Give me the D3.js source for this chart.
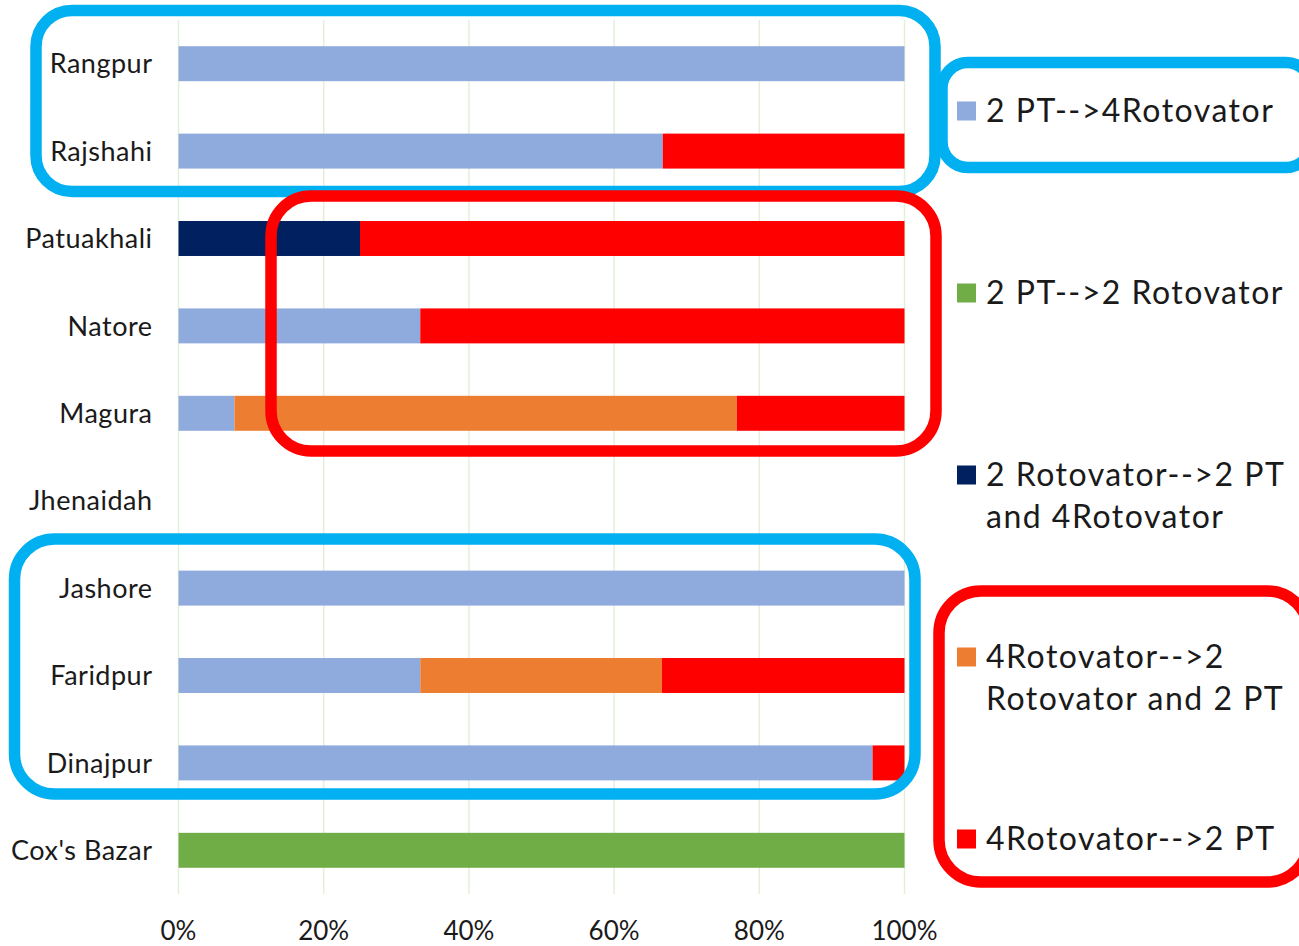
<!DOCTYPE html>
<html>
<head>
<meta charset="utf-8">
<script src="https://cdn.jsdelivr.net/npm/d3@7/dist/d3.min.js"></script>
<style>
  html, body { margin: 0; padding: 0; background: #fff; }
  svg { display: block; }
  text { font-family: "Lato", "Open Sans", sans-serif; fill: #1a1a1a; }
</style>
</head>
<body>
<svg id="chart" width="1299" height="946"></svg>
<script>
// ---- data ----
const categories = ["Rangpur", "Rajshahi", "Patuakhali", "Natore", "Magura", "Jhenaidah", "Jashore", "Faridpur", "Dinajpur", "Cox's Bazar"];
const seriesNames = ["2 PT-->4Rotovator", "2 PT-->2 Rotovator", "2 Rotovator-->2 PT and 4Rotovator", "4Rotovator-->2 Rotovator and 2 PT", "4Rotovator-->2 PT"];
const s_2PT_4Rot   = [100, 66.7, 0, 33.3, 7.7, 0, 100, 33.3, 95.6, 0];
const s_2PT_2Rot   = [0, 0, 0, 0, 0, 0, 0, 0, 0, 100];
const s_2Rot_2PT4R = [0, 0, 25, 0, 0, 0, 0, 0, 0, 0];
const s_4Rot_2R2PT = [0, 0, 0, 0, 69.2, 0, 0, 33.3, 0, 0];
const s_4Rot_2PT   = [0, 33.3, 75, 66.7, 23.1, 0, 0, 33.4, 4.4, 0];
const xTicks = [0, 20, 40, 60, 80, 100];
const legendLines = [["2 PT-->4Rotovator"], ["2 PT-->2 Rotovator"], ["2 Rotovator-->2 PT", "and 4Rotovator"], ["4Rotovator-->2", "Rotovator and 2 PT"], ["4Rotovator-->2 PT"]];

const colors = ["#8FAADC", "#70AD47", "#002060", "#ED7D31", "#FF0000"];
const seriesValues = [s_2PT_4Rot, s_2PT_2Rot, s_2Rot_2PT4R, s_4Rot_2R2PT, s_4Rot_2PT];

const table = categories.map((c, i) => {
  const row = { category: c };
  seriesNames.forEach((k, j) => row[k] = seriesValues[j][i]);
  return row;
});

const svg = d3.select("#chart");
const x = d3.scaleLinear().domain([0, 100]).range([178.5, 904.5]);
const y = d3.scaleBand().domain(categories).range([20, 894]).paddingInner(0.6).paddingOuter(0.3);

// gridlines
svg.append("g").selectAll("line").data(xTicks).join("line")
  .attr("x1", d => x(d)).attr("x2", d => x(d))
  .attr("y1", 20).attr("y2", 894)
  .attr("stroke", "#E2F0D9").attr("stroke-width", 1.5);

// stacked bars
const stack = d3.stack().keys(seriesNames)(table);
svg.append("g").selectAll("g").data(stack).join("g")
  .attr("fill", (d, i) => colors[i])
  .selectAll("rect").data(d => d.filter(p => p[1] - p[0] > 0)).join("rect")
  .attr("x", d => x(d[0]))
  .attr("width", d => x(d[1]) - x(d[0]))
  .attr("y", d => y(d.data.category))
  .attr("height", y.bandwidth());

// category labels
svg.append("g").selectAll("text").data(categories).join("text")
  .attr("x", 152.5).attr("y", d => y(d) + y.bandwidth() / 2)
  .attr("dy", "0.36em")
  .attr("text-anchor", "end")
  .attr("font-size", 27)
  .attr("letter-spacing", "0.5px")
  .text(d => d);

// x-axis tick labels
svg.append("g").selectAll("text").data(xTicks).join("text")
  .attr("x", d => x(d)).attr("y", 940)
  .attr("text-anchor", "middle")
  .attr("font-size", 26)
  .text(d => d + "%");

// legend
const lg = svg.append("g");
legendLines.forEach((lines, i) => {
  const base = 121.5 + i * 182;
  lg.append("rect").attr("x", 957).attr("y", base - 20).attr("width", 19).attr("height", 19).attr("fill", colors[i]);
  lines.forEach((t, k) => {
    lg.append("text").attr("x", 986).attr("y", base + k * 42.5)
      .attr("font-size", 32).attr("letter-spacing", "1.5px").text(t);
  });
});

// annotation boxes
const boxes = [
  { x: 36, y: 10.5, w: 899, h: 181, r: 36, c: "#00B0F0" },
  { x: 942, y: 62.5, w: 370, h: 105, r: 26, c: "#00B0F0" },
  { x: 271, y: 196, w: 665, h: 255, r: 40, c: "#FF0000" },
  { x: 14.5, y: 539, w: 900.5, h: 255, r: 40, c: "#00B0F0" },
  { x: 939, y: 591, w: 370, h: 291, r: 42, c: "#FF0000" }
];
svg.append("g").selectAll("rect").data(boxes).join("rect")
  .attr("x", d => d.x).attr("y", d => d.y).attr("width", d => d.w).attr("height", d => d.h)
  .attr("rx", d => d.r).attr("ry", d => d.r)
  .attr("fill", "none").attr("stroke", d => d.c).attr("stroke-width", 11.5);
</script>
</body>
</html>
